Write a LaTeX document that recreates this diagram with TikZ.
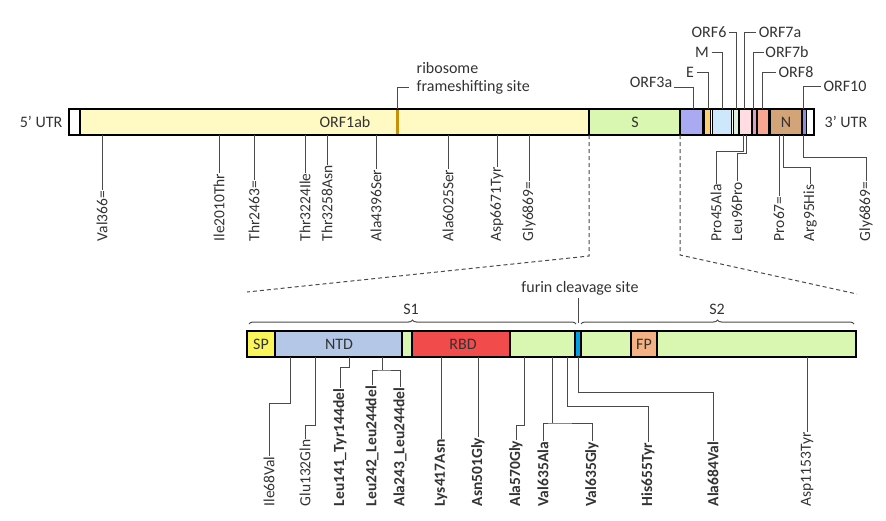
\documentclass[tikz,border=0pt]{standalone}
\usepackage{fontspec}
\setmainfont{Carlito}
\usetikzlibrary{decorations.pathreplacing}
\definecolor{txtc}{HTML}{333333}
\definecolor{leadc}{HTML}{4A4A4A}
\definecolor{orfone}{HTML}{FFF9C4}
\definecolor{fsc}{HTML}{C8900A}
\definecolor{sgreen}{HTML}{D9F7B0}
\definecolor{orfthree}{HTML}{AAAAF2}
\definecolor{ecol}{HTML}{FFD070}
\definecolor{mcol}{HTML}{CDE8FA}
\definecolor{orfsix}{HTML}{DDF0DD}
\definecolor{orfseva}{HTML}{FFDDE0}
\definecolor{orfsevb}{HTML}{D9A0C4}
\definecolor{orfeight}{HTML}{F8A890}
\definecolor{ncol}{HTML}{D2A478}
\definecolor{orften}{HTML}{8E8ED2}
\definecolor{spcol}{HTML}{FAF55A}
\definecolor{ntdcol}{HTML}{B4C7E7}
\definecolor{rbdcol}{HTML}{F24B4B}
\definecolor{furcol}{HTML}{00A0E8}
\definecolor{fpcol}{HTML}{F4B183}
\begin{document}
\begin{tikzpicture}[x=1pt,y=-1pt,
  seg/.style={draw=black,line width=1.2pt},
  segs/.style={draw=black,line width=0.8pt},
  lead/.style={draw=leadc,line width=1pt},
  zoomline/.style={draw=leadc,line width=1pt,dash pattern=on 4pt off 3pt},
  vlab/.style={rotate=90,anchor=west,inner sep=0.5pt,text=txtc,font=\fontsize{15.5}{17}\selectfont},
  vlabb/.style={vlab,font=\fontsize{15.5}{17}\selectfont\bfseries},
  hlab/.style={text=txtc,inner sep=0.5pt,font=\fontsize{16}{18}\selectfont},
  brc/.style={draw=leadc,line width=1pt,decorate,decoration={brace,amplitude=4pt}}]
\useasboundingbox (0,0) rectangle (886,520);

% ---------------- genome bar ----------------
\filldraw[seg,fill=white] (69,109) rectangle (814,135);
\filldraw[seg,fill=white] (69,109) rectangle (80,135);
\filldraw[seg,fill=orfone] (80,109) rectangle (589,135);
\filldraw[seg,fill=sgreen] (589,109) rectangle (680,135);
\filldraw[seg,fill=orfthree] (680,109) rectangle (703,135);
\filldraw[segs,fill=ecol] (704,109) rectangle (710,135);
\filldraw[segs,fill=mcol] (712,109) rectangle (731,135);
\filldraw[segs,fill=orfsix] (733,109) rectangle (738,135);
\filldraw[segs,fill=orfseva] (739.5,109) rectangle (751,135);
\filldraw[segs,fill=orfsevb] (752,109) rectangle (756,135);
\filldraw[segs,fill=orfeight] (757,109) rectangle (768,135);
\filldraw[seg,fill=ncol] (770,109) rectangle (802,135);
\filldraw[segs,fill=orften] (802,109) rectangle (806,135);
\fill[fsc] (395.5,110) rectangle (398.5,134);
\draw[line width=1.8pt] (69,109) rectangle (814,135);

\node[hlab] (orf1ab) at (345,122) {ORF1ab};
\node[hlab] (slab) at (635,122) {S};
\node[hlab] (nlab) at (786,122) {N};
\node[hlab,anchor=east] (utr5) at (63,122) {5' UTR};
\node[hlab,anchor=west] (utr3) at (824,122) {3' UTR};

% frameshift label
\node[hlab,anchor=west] (ribo) at (416,68) {ribosome};
\node[hlab,anchor=west] (frsh) at (416,87) {frameshifting site};
\coordinate (fs) at (397,109);
\draw[lead] (fs) |- ([xshift=-7pt]frsh.west);

% ORF labels above
\coordinate (t3a) at (693,109);
\coordinate (tE) at (708,109);
\coordinate (tM) at (722,109);
\coordinate (t6) at (736,109);
\coordinate (t7a) at (744,109);
\coordinate (t7b) at (753,109);
\coordinate (t8) at (762,109);
\coordinate (t10) at (803,109);
\node[hlab] (l3a) at (651,82) {ORF3a};
\node[hlab] (lE) at (690,72) {E};
\node[hlab] (lM) at (702,52) {M};
\node[hlab] (l6) at (709,32) {ORF6};
\node[hlab] (l7a) at (780,32) {ORF7a};
\node[hlab] (l7b) at (787,52) {ORF7b};
\node[hlab] (l8) at (796,72) {ORF8};
\node[hlab] (l10) at (845,86) {ORF10};
\draw[lead] ([yshift=-5pt,xshift=1pt]l3a.east) -| (t3a);
\draw[lead] ([xshift=2pt]lE.east) -| (tE);
\draw[lead] ([xshift=2pt]lM.east) -| (tM);
\draw[lead] ([xshift=2pt]l6.east) -| (t6);
\draw[lead] ([xshift=-2pt]l7a.west) -| (t7a);
\draw[lead] ([xshift=-1pt]l7b.west) -| (t7b);
\draw[lead] ([xshift=-2pt]l8.west) -| (t8);
\draw[lead] ([xshift=-2pt]l10.west) -| (t10);

% mutations below genome
\foreach \nm/\xx/\tx in {a/102/Val366=, b/219/Ile2010Thr, c/254/Thr2463=, d/305/Thr3224Ile, e/327/Thr3258Asn, f/376/Ala4396Ser, g/448/Ala6025Ser, h/497/Asp6671Tyr, i/529/Gly6869=, j/779/Pro67=}{
  \coordinate (gb\nm) at (\xx,135);
  \node[vlab] (gm\nm) at (\xx,242) {\tx};
  \draw[lead] (gb\nm) -- (gm\nm.east);
}
\coordinate (gbk) at (743,135);
\coordinate (gbl) at (746,135);
\coordinate (gbm) at (783,135);
\coordinate (gbn) at (803,135);
\node[vlab] (gmk) at (716,242) {Pro45Ala};
\node[vlab] (gml) at (737,242) {Leu96Pro};
\node[vlab] (gmm) at (810,242) {Arg95His};
\node[vlab] (gmn) at (866,242) {Gly6869=};
\draw[lead] (gbk) -- ++(0,16) -| (gmk.east);
\draw[lead] (gbl) -- ++(0,18.5) -| (gml.east);
\draw[lead] (gbm) -- ++(0,32) -| (gmm.east);
\draw[lead] (gbn) -- ++(0,22) -| (gmn.east);

% zoom lines
\coordinate (zl0) at (589,135);
\coordinate (zl1) at (589,256);
\coordinate (zl2) at (247,292);
\coordinate (zr0) at (680,135);
\coordinate (zr1) at (680,255);
\coordinate (zr2) at (857,294);
\draw[zoomline] (zl0) -- (zl1) -- (zl2);
\draw[zoomline] (zr0) -- (zr1) -- (zr2);

% ---------------- spike bar ----------------
\filldraw[seg,fill=sgreen] (247,331) rectangle (856,357);
\filldraw[seg,fill=spcol] (247,331) rectangle (275,357);
\filldraw[seg,fill=ntdcol] (275,331) rectangle (402,357);
\filldraw[seg,fill=sgreen] (402,331) rectangle (412,357);
\filldraw[seg,fill=rbdcol] (412,331) rectangle (510,357);
\filldraw[seg,fill=sgreen] (510,331) rectangle (575,357);
\filldraw[segs,fill=furcol] (575,331) rectangle (581,357);
\filldraw[seg,fill=sgreen] (581,331) rectangle (631,357);
\filldraw[seg,fill=fpcol] (631,331) rectangle (657,357);
\draw[line width=1.8pt] (247,331) rectangle (856,357);

\node[hlab] (sp) at (261,344) {SP};
\node[hlab] (ntd) at (339,344) {NTD};
\node[hlab] (rbd) at (463,344) {RBD};
\node[hlab] (fp) at (644,344) {FP};

% braces
\coordinate (b1a) at (249,324);
\coordinate (b1b) at (576,324);
\coordinate (b2a) at (581,324);
\coordinate (b2b) at (854,324);
\draw[brc] (b1a) -- (b1b);
\draw[brc] (b2a) -- (b2b);
\node[hlab] (s1) at (411,309) {S1};
\node[hlab] (s2) at (717,309) {S2};
\node[hlab] (furin) at (580,288) {furin cleavage site};
\coordinate (furpt) at (578,323);
\draw[lead] ([xshift=-2pt,yshift=-2pt]furin.south) -- (furpt);

% spike mutations
\coordinate (sb1) at (290,357);
\coordinate (sb2) at (315,357);
\coordinate (sb3) at (349,357);
\coordinate (sb4) at (382,357);
\coordinate (sb5) at (441,357);
\coordinate (sb6) at (478,357);
\coordinate (sb7) at (524,357);
\coordinate (sb8) at (552,357);
\coordinate (sb9) at (567,357);
\coordinate (sb10) at (578,357);
\coordinate (sb11) at (807,357);
\node[vlab] (sm1) at (269,507) {Ile68Val};
\node[vlab] (sm2) at (305,507) {Glu132Gln};
\node[vlabb] (sm3) at (340,507) {Leu141\_Tyr144del};
\node[vlabb] (sm4a) at (372,507) {Leu242\_Leu244del};
\node[vlabb] (sm4b) at (400,507) {Ala243\_Leu244del};
\node[vlabb] (sm5) at (441,507) {Lys417Asn};
\node[vlabb] (sm6) at (478,507) {Asn501Gly};
\node[vlabb] (sm7) at (516,507) {Ala570Gly};
\node[vlabb] (sm8a) at (543,507) {Val635Ala};
\node[vlabb] (sm8b) at (592,507) {Val635Gly};
\node[vlabb] (sm9) at (648,507) {His655Tyr};
\node[vlabb] (sm10) at (713,507) {Ala684Val};
\node[vlab] (sm11) at (807,507) {Asp1153Tyr};
\draw[lead] (sb1) -- ++(0,46) -| (sm1.east);
\draw[lead] (sb2) -- ++(0,68) -| (sm2.east);
\draw[lead] (sb3) -- ++(0,10) -| (sm3.east);
\draw[lead] (sb4) -- ++(0,13) coordinate (j4);
\draw[lead] (sm4a.east) |- (j4) -| (sm4b.east);
\draw[lead] (sb5) -- (sm5.east);
\draw[lead] (sb6) -- (sm6.east);
\draw[lead] (sb7) -- ++(0,68) -| (sm7.east);
\draw[lead] (sb8) -- ++(0,66) coordinate (j8);
\draw[lead] (sm8a.east) |- (j8) -| (sm8b.east);
\draw[lead] (sb9) -- ++(0,49) -| (sm9.east);
\draw[lead] (sb10) -- ++(0,35) -| (sm10.east);
\draw[lead] (sb11) -- (sm11.east);
\end{tikzpicture}
\end{document}
